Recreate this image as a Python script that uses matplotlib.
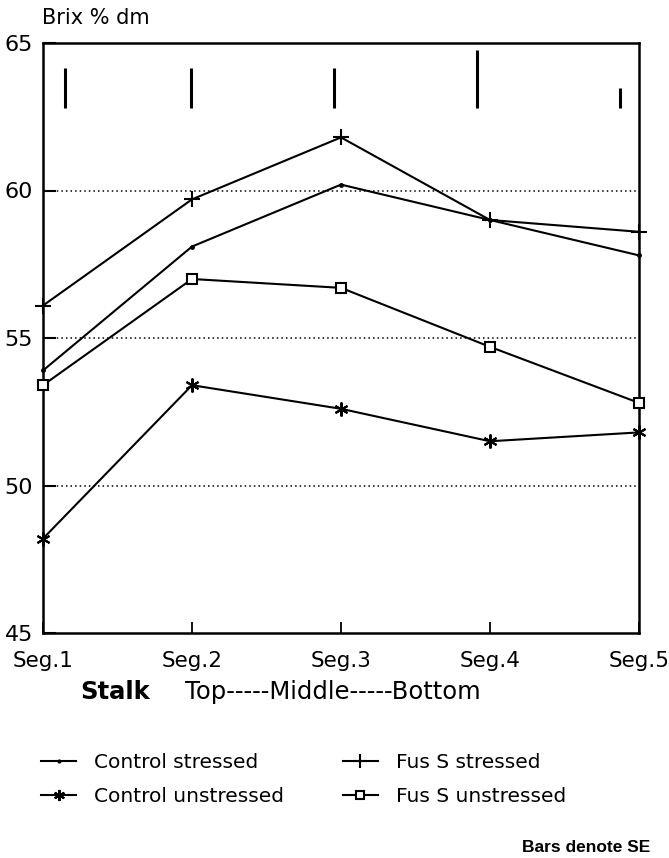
import matplotlib
matplotlib.use("Agg")
import matplotlib.pyplot as plt

plt.rcParams['font.family'] = ['DejaVu Sans']

segments = ["Seg.1", "Seg.2", "Seg.3", "Seg.4", "Seg.5"]
control_stressed = [53.9, 58.1, 60.2, 59.0, 57.8]
control_unstressed = [48.2, 53.4, 52.6, 51.5, 51.8]
fus_stressed = [56.1, 59.7, 61.8, 59.0, 58.6]
fus_unstressed = [53.4, 57.0, 56.7, 54.7, 52.8]

se_x = [0.15, 0.99, 1.95, 2.91, 3.87]
se_values = [1.35, 1.35, 1.35, 1.95, 0.67]
se_base = 62.8

y_ticks = [45, 50, 55, 60, 65]
grid_levels = [50, 55, 60]

fig = plt.figure(figsize=(6.69, 8.58), dpi=100)
ax = fig.add_axes([43/669, 1 - 633/858, (639-43)/669, (633-43)/858])

x = list(range(len(segments)))

for g in grid_levels:
    ax.axhline(g, color='black', lw=1.1, ls=(0, (1, 2)), zorder=1)

lw = 1.5
l_cs, = ax.plot(x, control_stressed, color='black', lw=lw, marker='o', ms=2.5,
                label='Control stressed', clip_on=False, zorder=3)
l_cu, = ax.plot(x, control_unstressed, color='black', lw=lw, marker=(6, 2, 0), ms=10,
                mew=1.5, label='Control unstressed', clip_on=False, zorder=3)
l_fs, = ax.plot(x, fus_stressed, color='black', lw=lw, marker='+', ms=12, mew=1.5,
                label='Fus S stressed', clip_on=False, zorder=3)
l_fu, = ax.plot(x, fus_unstressed, color='black', lw=lw, marker='s', ms=7,
                mfc='white', mew=1.5, label='Fus S unstressed', clip_on=False, zorder=3)

ax.vlines(se_x, se_base, [se_base + s for s in se_values], color='black', lw=2.2, zorder=3)

ax.set_xlim(0, 4)
ax.set_ylim(45, 65)
ax.set_xticks(x)
ax.set_xticklabels(segments, fontsize=15.5)
ax.set_yticks(y_ticks)
ax.set_yticklabels([str(v) for v in y_ticks], fontsize=16)
ax.tick_params(axis='x', direction='in', length=8, width=1.3, pad=13)
ax.tick_params(axis='y', direction='in', length=9, width=1.5, pad=7)
for s in ax.spines.values():
    s.set_linewidth(1.8)

fig.text(42/669, 1 - 18/858, "Brix % dm", fontsize=15, ha='left', va='center')
fig.text(80/669, 1 - 692/858, "Stalk", fontsize=17.5, fontweight='bold', ha='left', va='center')
fig.text(185/669, 1 - 692/858, "Top-----Middle-----Bottom", fontsize=17.5, ha='left', va='center')

fig.legend(handles=[l_cs, l_cu, l_fs, l_fu], ncol=2, frameon=False, fontsize=14.5,
           loc='upper left', bbox_to_anchor=(41/669, 1 - 753/858), borderpad=0,
           borderaxespad=0,
           handlelength=1.75, handletextpad=0.9, columnspacing=2.9, labelspacing=0.75,
           markerscale=0.8)

fig.text(650/669, 1 - 848/858, "Bars denote SE", fontsize=12.5, fontweight='bold',
         family=['Liberation Sans', 'DejaVu Sans'], ha='right', va='center')

fig.savefig("out.png", dpi=100)
